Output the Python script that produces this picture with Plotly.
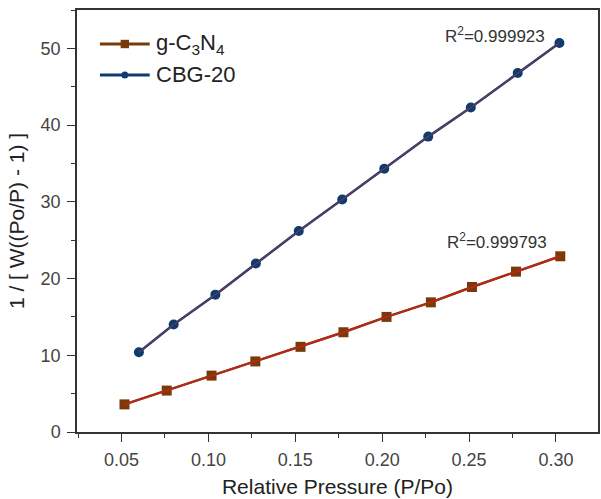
import plotly.graph_objects as go

# Data
x_g = [0.0517, 0.0760, 0.1018, 0.1270, 0.1530, 0.1777, 0.2025, 0.2280, 0.2517, 0.2770, 0.3025]
y_g = [3.6, 5.4, 7.35, 9.2, 11.1, 13.0, 15.0, 16.9, 18.9, 20.9, 22.9]

x_c = [0.0600, 0.0800, 0.1040, 0.1273, 0.1520, 0.1770, 0.2012, 0.2265, 0.2510, 0.2780, 0.3020]
y_c = [10.4, 14.0, 17.9, 21.95, 26.2, 30.3, 34.3, 38.5, 42.3, 46.8, 50.7]

names = ["g-C<sub>3</sub>N<sub>4</sub>", "CBG-20"]
r2_labels = ["R<sup>2</sup>=0.999793", "R<sup>2</sup>=0.999923"]

x_ticks = [0.05, 0.10, 0.15, 0.20, 0.25, 0.30]
y_ticks = [0, 10, 20, 30, 40, 50]

FONT = "Liberation Sans, Arial, sans-serif"
BROWN = "#7a3a08"
RED = "#b8281a"
NAVY = "#0f3c6e"
FITC = "#a0304a"

L, R, T, B, W, H = 77, 1, 10, 67, 601, 499
PW, PH = W - L - R, H - T - B


def px(x):
    return (x - L) / PW


def py(y):
    return (H - B - y) / PH


fig = go.Figure()
fig.add_trace(go.Scatter(x=x_g, y=y_g, mode="lines+markers", name=names[0],
                         line=dict(color=BROWN, width=2.5),
                         marker=dict(symbol="square", size=10, color=BROWN)))
fig.add_trace(go.Scatter(x=x_g, y=y_g, mode="lines", showlegend=False,
                         line=dict(color=RED, width=2)))
fig.add_trace(go.Scatter(x=x_c, y=y_c, mode="lines+markers", name=names[1],
                         line=dict(color=NAVY, width=2.5),
                         marker=dict(symbol="circle", size=10, color=NAVY)))
fig.add_trace(go.Scatter(x=x_c, y=y_c, mode="lines", showlegend=False,
                         line=dict(color=FITC, width=1)))

fig.add_annotation(x=0.2663, y=24.9, xref="x", yref="y", text=r2_labels[0],
                   showarrow=False, font=dict(family=FONT, size=17, color="#333333"))
fig.add_annotation(x=0.2650, y=51.7, xref="x", yref="y", text=r2_labels[1],
                   showarrow=False, font=dict(family=FONT, size=17, color="#333333"))

# Manual legend
leg_items = [(names[0], BROWN, "rect", 44), (names[1], NAVY, "circle", 75)]
for name, col, shp, yy in leg_items:
    fig.add_shape(type="line", xref="paper", yref="paper",
                  x0=px(100), x1=px(150), y0=py(yy), y1=py(yy),
                  line=dict(color=col, width=3))
    r = 4.2 if shp == "rect" else 3.5
    fig.add_shape(type=shp, xref="paper", yref="paper",
                  x0=px(125 - r), x1=px(125 + r), y0=py(yy - r), y1=py(yy + r),
                  line=dict(color=col, width=0), fillcolor=col)
    fig.add_annotation(x=px(154), y=py(yy), xref="paper", yref="paper",
                       xanchor="left", yanchor="middle", text=name, showarrow=False,
                       font=dict(family=FONT, size=22, color="#222222"))

axis_common = dict(showline=True, linecolor="#333333", linewidth=1.5, mirror=True,
                   ticks="outside", ticklen=8, tickwidth=1.2, tickcolor="#333333",
                   showgrid=False, zeroline=False, ticklabelstandoff=3,
                   tickfont=dict(family=FONT, size=18, color="#444444"))

fig.update_xaxes(range=[0.02437, 0.3242], tickvals=x_ticks,
                 ticktext=[f"{v:.2f}" for v in x_ticks],
                 minor=dict(ticks="outside", ticklen=4, dtick=0.025, tick0=0.025,
                            tickcolor="#333333", tickwidth=1),
                 title=dict(text="Relative Pressure (P/Po)", standoff=10,
                            font=dict(family=FONT, size=21, color="#222222")),
                 **axis_common)
fig.update_yaxes(range=[0, 55], tickvals=y_ticks,
                 minor=dict(ticks="outside", ticklen=4, dtick=5, tick0=0,
                            tickcolor="#333333", tickwidth=1),
                 title=dict(text="1 / [ W((Po/P) - 1) ]", standoff=10,
                            font=dict(family=FONT, size=21, color="#222222")),
                 **axis_common)

fig.update_layout(width=W, height=H,
                  margin=dict(l=L, r=R, t=T, b=B),
                  plot_bgcolor="white", paper_bgcolor="white",
                  showlegend=False)

fig.write_html("out.html")
